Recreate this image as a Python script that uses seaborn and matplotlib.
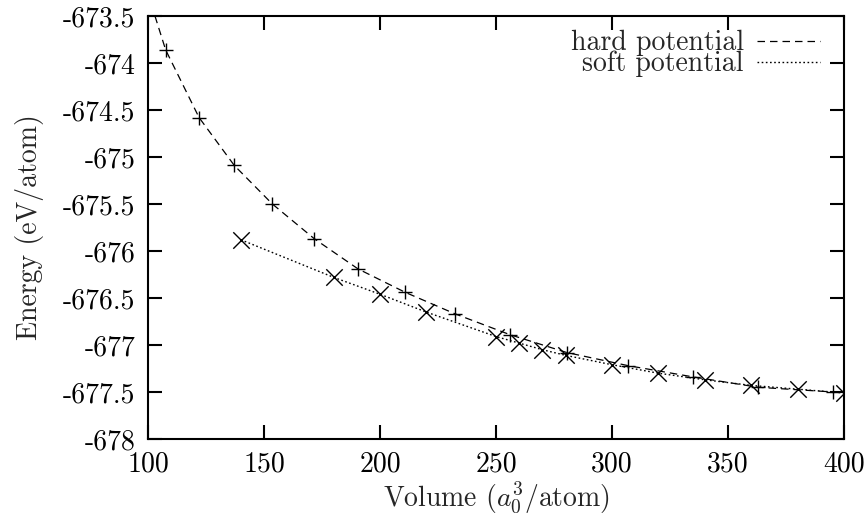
import matplotlib
matplotlib.use("Agg")
import matplotlib.pyplot as plt
import seaborn as sns
import pandas as pd

# ---- data ----
hard_vol = [107.6, 122.0, 137.2, 153.6, 171.7, 190.5, 210.9, 232.5, 256.0, 280.5, 307.0, 335.1, 363.1, 395.4]
hard_energy = [-673.86, -674.58, -675.09, -675.50, -675.87, -676.19, -676.44, -676.67, -676.89, -677.08,
               -677.22, -677.34, -677.45, -677.50]
soft_vol = [140, 180, 200, 220, 250, 260, 270, 280, 300, 320, 340, 360, 380, 400]
soft_energy = [-675.88, -676.28, -676.46, -676.65, -676.91, -676.98, -677.05, -677.11, -677.21, -677.30,
               -677.37, -677.43, -677.47, -677.51]
# points
hard_fit_vol = [103.0, 107.6, 122.0, 137.2, 153.6, 171.7, 190.5, 210.9, 232.5, 256.0, 280.5, 307.0, 335.1, 363.1, 395.4, 400.0]
hard_fit_energy = [-673.50, -673.86, -674.58, -675.09, -675.50, -675.87, -676.19, -676.44, -676.67, -676.89,
                   -677.08, -677.22, -677.34, -677.45, -677.50, -677.51]
soft_fit_vol = [140, 180, 200, 220, 250, 260, 270, 280, 300, 320, 340, 360, 380, 400]
soft_fit_energy = [-675.88, -676.28, -676.46, -676.65, -676.91, -676.98, -677.05, -677.11, -677.21, -677.30,
                   -677.37, -677.43, -677.47, -677.51]
x_ticks = [100, 150, 200, 250, 300, 350, 400]
x_tick_labels = ["100", "150", "200", "250", "300", "350", "400"]
y_ticks = [-673.5, -674, -674.5, -675, -675.5, -676, -676.5, -677, -677.5, -678]
y_tick_labels = ["-673.5", "-674", "-674.5", "-675", "-675.5", "-676", "-676.5", "-677", "-677.5", "-678"]
series_labels = ["hard potential", "soft potential"]

sns.set_style("white")
plt.rcParams["font.family"] = ["cmr10", "DejaVu Serif"]
plt.rcParams["mathtext.fontset"] = "cm"
plt.rcParams["axes.unicode_minus"] = False
plt.rcParams["axes.formatter.use_mathtext"] = True

FS = 20
fig = plt.figure(figsize=(8.67, 5.16), dpi=100)
ax = fig.add_axes([148 / 867, 1 - 439 / 516, 696 / 867, 423 / 516])

hard_fit = pd.DataFrame({"vol": hard_fit_vol, "E": hard_fit_energy})
soft_fit = pd.DataFrame({"vol": soft_fit_vol, "E": soft_fit_energy})
sns.lineplot(data=hard_fit, x="vol", y="E", color="black", linewidth=0.9, ax=ax,
             label=series_labels[0], estimator=None, sort=False)
l_hard = ax.lines[-1]
l_hard.set_dashes((6, 4))
sns.lineplot(data=soft_fit, x="vol", y="E", color="black", linewidth=1.0, ax=ax,
             label=series_labels[1], estimator=None, sort=False)
l_soft = ax.lines[-1]
l_soft.set_dashes((1.2, 1.8))

sns.scatterplot(x=hard_vol, y=hard_energy, marker="+", s=110, color="black", linewidth=1.0, ax=ax, legend=False)
sns.scatterplot(x=soft_vol, y=soft_energy, marker="x", s=140, color="black", linewidth=1.0, ax=ax, legend=False)

ax.set_xlim(100, 400)
ax.set_ylim(-678, -673.5)
ax.set_xticks(x_ticks)
ax.set_xticklabels(x_tick_labels)
ax.set_yticks(y_ticks)
ax.set_yticklabels(y_tick_labels)
ax.tick_params(direction="in", length=10, width=1.5, top=True, right=True, bottom=True, left=True,
               labelsize=FS, color="black", labelcolor="black")
ax.tick_params(axis="x", pad=9)
ax.tick_params(axis="y", pad=9)
for sp in ax.spines.values():
    sp.set_visible(True)
    sp.set_linewidth(1.5)
    sp.set_color("black")

ax.set_xlabel("Volume ($a_0^3$/atom)", fontsize=FS, labelpad=1)
ax.set_ylabel("Energy (eV/atom)", fontsize=FS, labelpad=14)

ax.legend(handles=[l_hard, l_soft], labels=series_labels, loc="upper right",
          bbox_to_anchor=(0.9655, 0.967), borderaxespad=0, borderpad=0,
          markerfirst=False, frameon=False, handlelength=2.25, handletextpad=0.5,
          labelspacing=-0.2, fontsize=FS)

fig.savefig("out.png", dpi=100)
